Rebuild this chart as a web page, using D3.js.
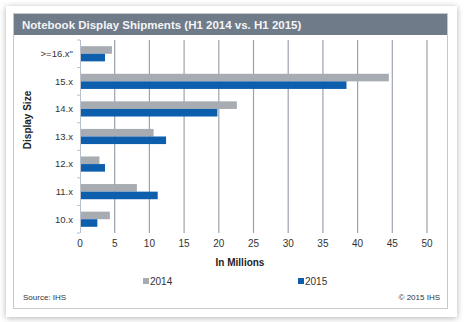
<!DOCTYPE html>
<html>
<head>
<meta charset="utf-8">
<script src="https://cdn.jsdelivr.net/npm/d3@7"></script>
<style>
  body { margin: 0; background: #fff; }
  svg text { font-family: "Liberation Sans", Arial, sans-serif; }
</style>
</head>
<body>
<svg id="chart" width="465" height="322"></svg>
<script>
// display size buckets, top to bottom
const sizes = ['>=16.x"', '15.x', '14.x', '13.x', '12.x', '11.x', '10.x'];
const seriesNames = ['2014', '2015'];
// shipments in millions, H1
const shipments2014 = [4.6, 44.5, 22.6, 10.6, 2.8, 8.2, 4.3];
const shipments2015 = [3.6, 38.4, 19.8, 12.4, 3.6, 11.2, 2.5];
const xTicks = [0, 5, 10, 15, 20, 25, 30, 35, 40, 45, 50];

const colors = { '2014': '#a6acb1', '2015': '#0d5fae' };

const svg = d3.select('#chart');

// card with a soft shadow
const defs = svg.append('defs');
const f = defs.append('filter').attr('id', 'shadow')
  .attr('x', '-5%').attr('y', '-5%').attr('width', '110%').attr('height', '110%');
f.append('feDropShadow').attr('dx', 0).attr('dy', 1).attr('stdDeviation', 3)
  .attr('flood-color', '#000').attr('flood-opacity', 0.3);

svg.append('rect')
  .attr('x', 6).attr('y', 6).attr('width', 451).attr('height', 311)
  .attr('fill', '#fff').attr('filter', 'url(#shadow)');
svg.append('rect')
  .attr('x', 13.5).attr('y', 13.5).attr('width', 434).attr('height', 295)
  .attr('fill', '#fff').attr('stroke', '#c4c8cc');

// title bar
svg.append('rect')
  .attr('x', 14).attr('y', 14).attr('width', 433).attr('height', 21)
  .attr('fill', '#6f7b88');
svg.append('text')
  .attr('x', 22).attr('y', 29)
  .attr('fill', '#f4f5f7').attr('font-size', 11.5).attr('font-weight', 'bold')
  .text('Notebook Display Shipments (H1 2014 vs. H1 2015)');

const margin = { left: 80, top: 40 };
const width = 347, height = 193;
const g = svg.append('g').attr('transform', `translate(${margin.left},${margin.top})`);

const x = d3.scaleLinear().domain([0, 50]).range([0, width]);
const y = d3.scaleBand().domain(sizes).range([0, height]).paddingInner(0.45).paddingOuter(0.225);
const ySub = d3.scaleBand().domain(seriesNames).range([0, y.bandwidth()]);

// vertical gridlines
g.selectAll('.grid')
  .data(xTicks.slice(1))
  .enter().append('line')
  .attr('x1', d => x(d)).attr('x2', d => x(d))
  .attr('y1', 0).attr('y2', height)
  .attr('stroke', '#9ca2ad').attr('stroke-width', 1.2);

// bars
const rows = sizes.map((s, i) => ({ size: s, values: [
  { key: '2014', value: shipments2014[i] },
  { key: '2015', value: shipments2015[i] }
] }));

g.selectAll('.row')
  .data(rows)
  .enter().append('g')
  .attr('transform', d => `translate(0,${y(d.size)})`)
  .selectAll('rect')
  .data(d => d.values)
  .enter().append('rect')
  .attr('x', 0)
  .attr('y', d => ySub(d.key))
  .attr('width', d => x(d.value))
  .attr('height', ySub.bandwidth())
  .attr('fill', d => colors[d.key]);

// y axis: line + ticks at category boundaries
const bounds = d3.range(sizes.length + 1).map(i => i * height / sizes.length);
g.append('line')
  .attr('x1', 0.5).attr('x2', 0.5).attr('y1', 0).attr('y2', height)
  .attr('stroke', '#b8c0cc');
g.selectAll('.ytick')
  .data(bounds)
  .enter().append('line')
  .attr('x1', -3).attr('x2', 0)
  .attr('y1', d => d).attr('y2', d => d)
  .attr('stroke', '#b8c0cc');

g.selectAll('.ylabel')
  .data(sizes)
  .enter().append('text')
  .attr('x', -7)
  .attr('y', d => y(d) + y.bandwidth() / 2)
  .attr('dy', '0.35em')
  .attr('text-anchor', 'end')
  .attr('font-size', 9.5).attr('fill', '#333')
  .text(d => d);

// x tick labels
g.selectAll('.xlabel')
  .data(xTicks)
  .enter().append('text')
  .attr('x', d => x(d))
  .attr('y', height + 14)
  .attr('text-anchor', 'middle')
  .attr('font-size', 10).attr('fill', '#333')
  .text(d => d);

// axis titles
svg.append('text')
  .attr('x', 240).attr('y', 266)
  .attr('text-anchor', 'middle')
  .attr('font-size', 10).attr('font-weight', 'bold').attr('fill', '#222')
  .text('In Millions');
svg.append('text')
  .attr('transform', 'translate(31,120) rotate(-90)')
  .attr('text-anchor', 'middle')
  .attr('font-size', 10).attr('font-weight', 'bold').attr('fill', '#222')
  .text('Display Size');

// legend
const legendX = { '2014': 143, '2015': 298 };
const legend = svg.selectAll('.legend')
  .data(seriesNames)
  .enter().append('g')
  .attr('transform', d => `translate(${legendX[d]},281)`);
legend.append('rect')
  .attr('x', 0).attr('y', -3).attr('width', 6).attr('height', 6)
  .attr('fill', d => colors[d]);
legend.append('text')
  .attr('x', 7).attr('y', 0).attr('dy', '0.35em')
  .attr('font-size', 10).attr('fill', '#333')
  .text(d => d);

// footer
svg.append('text')
  .attr('x', 23).attr('y', 300)
  .attr('font-size', 8).attr('fill', '#333')
  .text('Source: IHS');
svg.append('text')
  .attr('x', 440).attr('y', 300)
  .attr('text-anchor', 'end')
  .attr('font-size', 8).attr('fill', '#333')
  .text('© 2015 IHS');
</script>
</body>
</html>
